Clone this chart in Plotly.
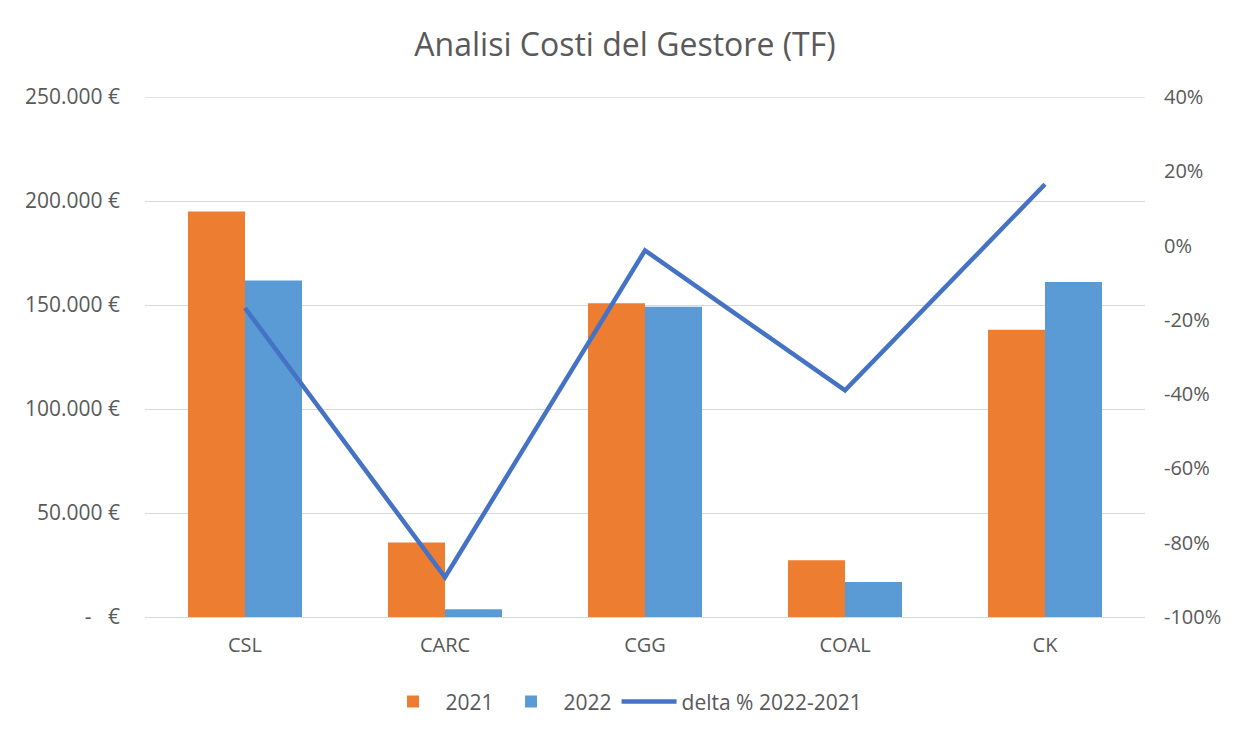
import plotly.graph_objects as go

# Data
categories = ['CSL', 'CARC', 'CGG', 'COAL', 'CK']
costs_2021 = [195000, 35800, 150900, 27300, 138100]
costs_2022 = [161800, 3700, 149100, 16800, 161100]
delta_pct = [-16.8, -89.3, -1.3, -39.0, 16.5]

left_ticks = [0, 50000, 100000, 150000, 200000, 250000]
left_labels = ['-   €', '50.000 €', '100.000 €', '150.000 €', '200.000 €', '250.000 €']
right_ticks = [-100, -80, -60, -40, -20, 0, 20, 40]
right_labels = ['-100%', '-80%', '-60%', '-40%', '-20%', '0%', '20%', '40%']

TEXT_COLOR = '#595959'
GRID_COLOR = '#D9D9D9'
FONT = 'Open Sans'

fig = go.Figure()
fig.add_trace(go.Bar(x=categories, y=costs_2021, name='2021',
                     marker={'color': '#ED7D31', 'line': {'width': 0}}))
fig.add_trace(go.Bar(x=categories, y=costs_2022, name='2022',
                     marker={'color': '#5B9BD5', 'line': {'width': 0}}))
fig.add_trace(go.Scatter(x=categories, y=delta_pct, name='delta % 2022-2021',
                         mode='lines', yaxis='y2',
                         line={'color': '#4472C4', 'width': 4.5}))

# page body adds an 8px offset, so the figure is a bit smaller than the window
fig.update_layout(
    width=1234, height=727,
    paper_bgcolor='white', plot_bgcolor='white',
    font={'family': FONT, 'size': 20, 'color': TEXT_COLOR},
    title={'text': 'Analisi Costi del Gestore (TF)', 'x': 0.5, 'xanchor': 'center',
           'y': 0.949, 'yanchor': 'middle',
           'font': {'family': FONT, 'size': 32, 'color': TEXT_COLOR}},
    margin={'l': 137, 'r': 97, 't': 89, 'b': 118},
    barmode='group', bargap=0.43, bargroupgap=0,
    xaxis={'showgrid': False, 'showline': False, 'ticks': '',
           'ticklabelstandoff': 14, 'tickfont': {'size': 20}},
    yaxis={'range': [0, 250000], 'tickvals': left_ticks, 'ticktext': left_labels,
           'showgrid': True, 'gridcolor': GRID_COLOR, 'gridwidth': 1.3,
           'zeroline': True, 'zerolinecolor': GRID_COLOR, 'zerolinewidth': 1.3,
           'ticks': '', 'ticklabelstandoff': 24, 'tickfont': {'size': 21}},
    yaxis2={'range': [-100, 40], 'tickvals': right_ticks, 'ticktext': right_labels,
            'overlaying': 'y', 'side': 'right', 'showgrid': False, 'zeroline': False,
            'ticks': '', 'ticklabelstandoff': 18, 'tickfont': {'size': 20}},
    legend={'orientation': 'h', 'x': 0.479, 'xanchor': 'center', 'y': -0.163,
            'yanchor': 'middle', 'font': {'size': 21}, 'itemwidth': 55},
    showlegend=True,
)

# plotly skips the gridline sitting on the top edge, so draw it
fig.add_shape(type='line', xref='paper', x0=0, x1=1, yref='y', y0=250000, y1=250000,
              line={'color': GRID_COLOR, 'width': 1.3}, layer='below')

fig.write_html('out.html')
